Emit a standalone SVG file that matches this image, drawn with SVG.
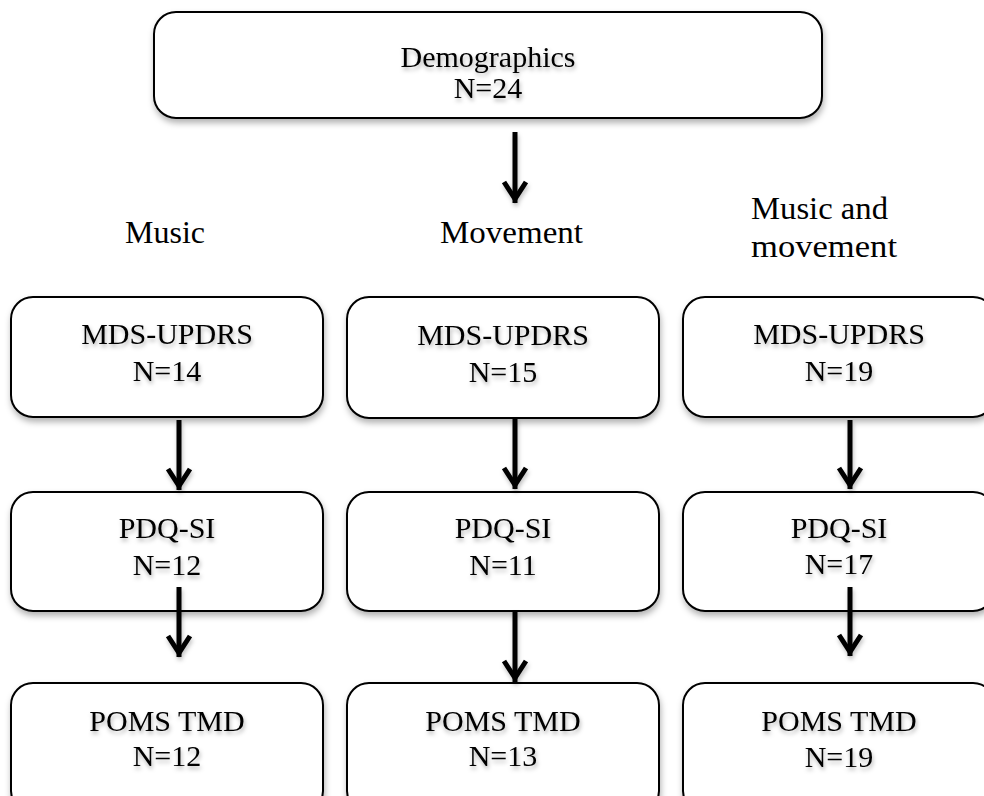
<svg xmlns="http://www.w3.org/2000/svg" width="984" height="796" viewBox="0 0 984 796">
<style>
.box{fill:#fff;stroke:#000;stroke-width:2;filter:url(#sh);}
.t{font-family:"Liberation Serif","DejaVu Serif",serif;font-size:30px;fill:#000;text-anchor:middle;filter:url(#tsh);}
.lbl{font-family:"Liberation Serif","DejaVu Serif",serif;font-size:31px;fill:#000;}
.arr{fill:none;stroke:#000;stroke-width:5;marker-end:url(#ah);filter:url(#ash);}
</style>
<defs>
<filter id="sh" x="-10%" y="-10%" width="120%" height="130%">
<feDropShadow dx="1" dy="4" stdDeviation="3" flood-color="#000" flood-opacity="0.3"/>
</filter>
<filter id="tsh" x="-10%" y="-20%" width="120%" height="150%">
<feDropShadow dx="1" dy="3" stdDeviation="2" flood-color="#000" flood-opacity="0.3"/>
</filter>
<filter id="ash" filterUnits="userSpaceOnUse" x="0" y="0" width="984" height="796">
<feDropShadow dx="1" dy="3" stdDeviation="2" flood-color="#000" flood-opacity="0.25"/>
</filter>
<marker id="ah" markerUnits="userSpaceOnUse" markerWidth="30" markerHeight="30" viewBox="-24 -15 30 30" refX="0" refY="0" orient="auto">
<path d="M-21,-11 L-4,0 L-21,11" fill="none" stroke="#000" stroke-width="5" stroke-linejoin="miter"/>
</marker>
</defs>

<g id="demographics">
<rect class="box" x="154" y="12" width="668" height="106" rx="22"/>
<text class="t" x="488" y="67">Demographics</text>
<text class="t" x="488" y="98">N=24</text>
</g>

<g id="labels">
<text class="lbl" x="125" y="243" textLength="80" lengthAdjust="spacingAndGlyphs">Music</text>
<text class="lbl" x="440" y="243" textLength="143" lengthAdjust="spacingAndGlyphs">Movement</text>
<text class="lbl" x="751" y="219" textLength="137" lengthAdjust="spacingAndGlyphs">Music and</text>
<text class="lbl" x="751" y="257" textLength="146" lengthAdjust="spacingAndGlyphs">movement</text>
</g>

<g id="music-mds">
<rect class="box" x="11" y="297" width="312" height="120" rx="22"/>
<text class="t" x="167" y="344">MDS-UPDRS</text>
<text class="t" x="167" y="381">N=14</text>
</g>
<g id="movement-mds">
<rect class="box" x="347" y="297" width="312" height="121" rx="22"/>
<text class="t" x="503" y="345">MDS-UPDRS</text>
<text class="t" x="503" y="382">N=15</text>
</g>
<g id="mm-mds">
<rect class="box" x="683" y="297" width="312" height="120" rx="22"/>
<text class="t" x="839" y="344">MDS-UPDRS</text>
<text class="t" x="839" y="381">N=19</text>
</g>

<g id="music-pdq">
<rect class="box" x="11" y="492" width="312" height="119" rx="22"/>
<text class="t" x="167" y="538">PDQ-SI</text>
<text class="t" x="167" y="575">N=12</text>
</g>
<g id="movement-pdq">
<rect class="box" x="347" y="492" width="312" height="119" rx="22"/>
<text class="t" x="503" y="538">PDQ-SI</text>
<text class="t" x="503" y="575">N=11</text>
</g>
<g id="mm-pdq">
<rect class="box" x="683" y="492" width="312" height="119" rx="22"/>
<text class="t" x="839" y="538">PDQ-SI</text>
<text class="t" x="839" y="574">N=17</text>
</g>

<g id="music-poms">
<rect class="box" x="11" y="683" width="312" height="130" rx="22"/>
<text class="t" x="167" y="731">POMS TMD</text>
<text class="t" x="167" y="766">N=12</text>
</g>
<g id="movement-poms">
<rect class="box" x="347" y="683" width="312" height="130" rx="22"/>
<text class="t" x="503" y="731">POMS TMD</text>
<text class="t" x="503" y="766">N=13</text>
</g>
<g id="mm-poms">
<rect class="box" x="683" y="683" width="312" height="130" rx="22"/>
<text class="t" x="839" y="731">POMS TMD</text>
<text class="t" x="839" y="767">N=19</text>
</g>

<g id="connectors">
<path class="arr" d="M515,132 V203"/>
<path class="arr" d="M179,420 V490"/>
<path class="arr" d="M179,587 V657"/>
<path class="arr" d="M515,418 V489"/>
<path class="arr" d="M515,611 V682"/>
<path class="arr" d="M850,420 V489"/>
<path class="arr" d="M850,587 V656"/>
</g>
</svg>
